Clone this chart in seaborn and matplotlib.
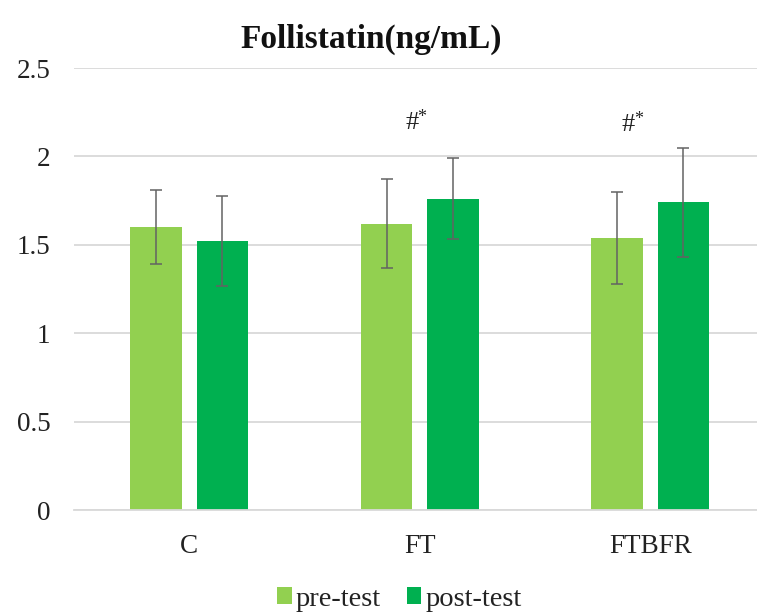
import matplotlib
matplotlib.use("Agg")
import matplotlib.pyplot as plt
import seaborn as sns
import pandas as pd

groups = ["C", "FT", "FTBFR"]
phases = ["pre-test", "post-test"]
pre_mean = [1.60, 1.62, 1.54]
post_mean = [1.52, 1.76, 1.74]
pre_sd = [0.21, 0.25, 0.26]
post_sd = [0.255, 0.23, 0.31]
marks_main = ["", "#", "#"]
marks_sup = ["", "*", "*"]
mark_y = [0.0, 2.19, 2.18]
mark_dx = [0.0, -0.035, -0.095]
yticks = [0, 0.5, 1, 1.5, 2, 2.5]
ytick_labels = ["0", "0.5", "1", "1.5", "2", "2.5"]
title = "Follistatin(ng/mL)"
colors = ["#92D050", "#00B050"]

df = pd.DataFrame({
    "group": groups * 2,
    "phase": [phases[0]] * 3 + [phases[1]] * 3,
    "value": pre_mean + post_mean,
})

sns.set_style("white")
plt.rcParams["font.family"] = ["Liberation Serif", "DejaVu Serif"]

fig = plt.figure(figsize=(7.57, 6.12), dpi=100)
ax = fig.add_axes([74 / 757, 1 - 510 / 612, 1 - 74 / 757, (510 - 68) / 612])

sns.barplot(data=df, x="group", y="value", hue="phase", order=groups,
            hue_order=phases, palette=colors, width=0.576, gap=0.225,
            saturation=1, edgecolor="none", linewidth=0, ax=ax, legend=True)

sds = [pre_sd, post_sd]
means = [pre_mean, post_mean]
for cont, m, s in zip(ax.containers, means, sds):
    xs = [b.get_x() + b.get_width() / 2 for b in cont]
    ax.errorbar(xs, m, yerr=s, fmt="none", ecolor="#636363", elinewidth=1.1,
                capsize=4.2, capthick=1.1, zorder=5)

for i, (t, sup, y, dx) in enumerate(zip(marks_main, marks_sup, mark_y, mark_dx)):
    if t:
        ax.text(i + dx, y, t, ha="center", va="center", fontsize=19, color="#222222")
        ax.annotate(sup, xy=(i + dx, y), xytext=(7.5, 4), textcoords="offset points",
                    ha="center", va="center", fontsize=13, color="#222222")

ax.set_xlim(-0.5, 2.463)
ax.set_ylim(0, 2.5)
ax.set_yticks(yticks)
ax.set_yticklabels(ytick_labels)
ax.set_xlabel("")
ax.set_ylabel("")
ax.tick_params(axis="y", length=0, pad=17, labelsize=19.5, labelcolor="#222222")
ax.tick_params(axis="x", length=0, pad=17, labelsize=19.5, labelcolor="#222222")
ax.yaxis.grid(True, color="#D9D9D9", linewidth=1.3)
ax.set_axisbelow(True)
for side in ["top", "right", "left"]:
    ax.spines[side].set_visible(False)
ax.spines["bottom"].set_color("#D9D9D9")
ax.spines["bottom"].set_linewidth(1.3)

sns.move_legend(ax, "center", bbox_to_anchor=(399.5 / 757, 1 - 599 / 612),
                bbox_transform=fig.transFigure, ncol=2, frameon=False, title=None,
                fontsize=20.5, handlelength=0.5, handleheight=0.5,
                handletextpad=0.15, columnspacing=0.9, borderpad=0)
leg = ax.get_legend()
for txt in leg.get_texts():
    txt.set_color("#222222")

fig.text(371 / 757, 1 - 48 / 612, title, ha="center", va="baseline",
         fontsize=24, fontweight="bold", color="#111111")

fig.savefig("out.png", dpi=100)
